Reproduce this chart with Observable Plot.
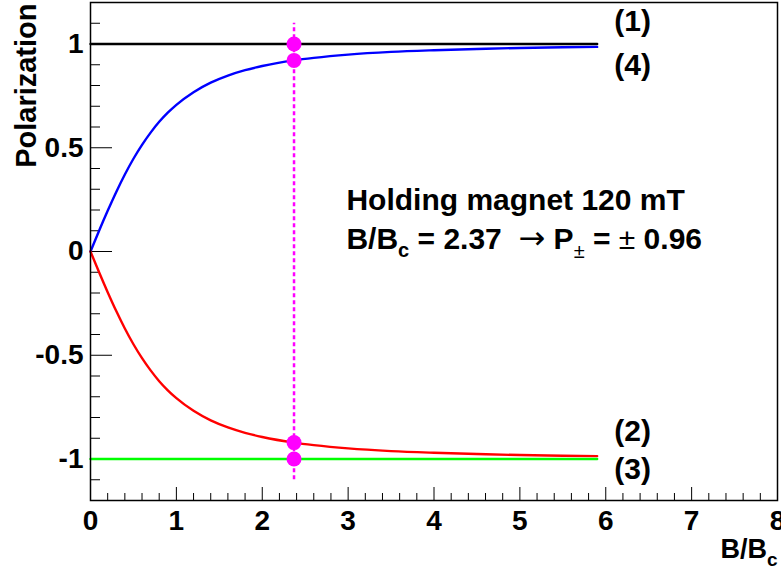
<!DOCTYPE html>
<html><head><meta charset="utf-8">
<script src="https://cdn.jsdelivr.net/npm/d3@7"></script>
<script src="https://cdn.jsdelivr.net/npm/@observablehq/plot@0.6"></script>
<style>body{margin:0;background:#fff;}</style>
</head><body><div id="chart"></div>
<script>
// ---- data ----
const curveX = [0, 0.1, 0.2, 0.3, 0.4, 0.5, 0.6, 0.7, 0.8, 0.9, 1.0, 1.2, 1.4, 1.6, 1.8, 2.0, 2.37, 2.6, 3.0, 3.5, 4.0, 4.5, 5.0, 5.5, 5.9];
const blueY  = [0, 0.100, 0.196, 0.287, 0.371, 0.447, 0.514, 0.573, 0.625, 0.669, 0.707, 0.768, 0.814, 0.848, 0.874, 0.894, 0.921, 0.933, 0.949, 0.962, 0.970, 0.976, 0.981, 0.984, 0.986];
const redY   = [0, -0.100, -0.196, -0.287, -0.371, -0.447, -0.514, -0.573, -0.625, -0.669, -0.707, -0.768, -0.814, -0.848, -0.874, -0.894, -0.921, -0.933, -0.949, -0.962, -0.970, -0.976, -0.981, -0.984, -0.986];
const flatX  = [0, 5.9];
const blackY = [1, 1];
const greenY = [-1, -1];
const markerX = [2.37, 2.37, 2.37, 2.37];
const markerY = [1, 0.921, -0.921, -1];
const cutX = [2.37];
const cutY1 = [-1.1];
const cutY2 = [1.1];
const labelNames = ["(1)", "(4)", "(2)", "(3)"];
const labelX = [6.1, 6.1, 6.1, 6.1];
const labelY = [1.062, 0.85, -0.912, -1.096];
const noteLines = ["Holding magnet 120 mT", "B/Bc = 2.37  \u2192 P\u00b1 = \u00b1 0.96"];
const noteX = [2.98, 2.98];
const noteY = [0.202, 0.012];
const xMajor = [0, 1, 2, 3, 4, 5, 6, 7, 8];
const xTickLabels = ["0", "1", "2", "3", "4", "5", "6", "7", "8"];
const xMinor = [0.2,0.4,0.6,0.8,1.2,1.4,1.6,1.8,2.2,2.4,2.6,2.8,3.2,3.4,3.6,3.8,4.2,4.4,4.6,4.8,5.2,5.4,5.6,5.8,6.2,6.4,6.6,6.8,7.2,7.4,7.6,7.8];
const yMajor = [-1, -0.5, 0, 0.5, 1];
const yTickLabels = ["-1", "-0.5", "0", "0.5", "1"];
const yMinor = [-1.1,-0.9,-0.8,-0.7,-0.6,-0.4,-0.3,-0.2,-0.1,0.1,0.2,0.3,0.4,0.6,0.7,0.8,0.9,1.1];
const xTitle = "B/Bc";
const yTitle = "Polarization";

// ---- tables ----
const blueData = curveX.map((x, i) => ({x, y: blueY[i]}));
const redData = curveX.map((x, i) => ({x, y: redY[i]}));
const blackData = flatX.map((x, i) => ({x, y: blackY[i]}));
const greenData = flatX.map((x, i) => ({x, y: greenY[i]}));
const markers = markerX.map((x, i) => ({x, y: markerY[i]}));
const cut = cutX.map((x, i) => ({x, y1: cutY1[i], y2: cutY2[i]}));
const labels = labelNames.map((t, i) => ({t, x: labelX[i], y: labelY[i]}));
const notes = noteLines.map((t, i) => ({t, x: noteX[i], y: noteY[i]}));

const W = 781, H = 569, mL = 90, mR = 4, mT = 2, mB = 69;
const pw = W - mL - mR, ph = H - mT - mB;

const plot = Plot.plot({
  width: W, height: H,
  marginLeft: mL, marginRight: mR, marginTop: mT, marginBottom: mB,
  style: {fontFamily: "'Liberation Sans', Arial, Helvetica, sans-serif", fontSize: "28px", fontWeight: "bold", background: "white", overflow: "visible", color: "black"},
  x: {domain: [0, 8]},
  y: {domain: [-1.2, 1.2]},
  marks: [
    Plot.axisX({ticks: xMajor, tickSize: 0, tickPadding: 10, label: null, tickFormat: d => xTickLabels[xMajor.indexOf(d)], fontSize: 28}),
    Plot.axisY({ticks: yMajor, tickSize: 0, tickPadding: 7, label: null, tickFormat: d => yTickLabels[yMajor.indexOf(d)], fontSize: 28}),
    Plot.tickX(xMajor, {insetTop: ph - 13, stroke: "black", strokeWidth: 1}),
    Plot.tickX(xMinor, {insetTop: ph - 7, stroke: "black", strokeWidth: 1}),
    Plot.tickY(yMajor, {insetRight: pw - 22, stroke: "black", strokeWidth: 1}),
    Plot.tickY(yMinor, {insetRight: pw - 10, stroke: "black", strokeWidth: 1}),
    Plot.line(blackData, {x: "x", y: "y", stroke: "black", strokeWidth: 2.4}),
    Plot.line(blueData, {x: "x", y: "y", stroke: "#0000ff", strokeWidth: 2.4, curve: "monotone-x"}),
    Plot.line(redData, {x: "x", y: "y", stroke: "#ff0000", strokeWidth: 2.4, curve: "monotone-x"}),
    Plot.line(greenData, {x: "x", y: "y", stroke: "#00ff00", strokeWidth: 2.4}),
    Plot.ruleX(cut, {x: "x", y1: "y1", y2: "y2", stroke: "#ff00ff", strokeWidth: 2.5, strokeDasharray: "4,3"}),
    Plot.dot(markers, {x: "x", y: "y", r: 7.5, fill: "#ff00ff", stroke: "none"}),
    Plot.text(labels, {x: "x", y: "y", text: "t", textAnchor: "start", lineAnchor: "bottom", fontSize: 30, fontWeight: "bold", fill: "black"}),
    Plot.text(notes, {x: "x", y: "y", text: "t", textAnchor: "start", lineAnchor: "bottom", fontSize: 30, fontWeight: "bold", fill: "black"}),
    Plot.text([yTitle], {frameAnchor: "top-left", dx: -55, dy: 1, rotate: -90, textAnchor: "end", lineAnchor: "bottom", fontSize: 29, fontWeight: "bold", fill: "black"}),
    Plot.text([xTitle], {frameAnchor: "bottom-right", dy: 57, textAnchor: "end", lineAnchor: "bottom", fontSize: 27, fontWeight: "bold", fill: "black"}),
    Plot.frame({stroke: "black", strokeWidth: 1.5})
  ]
});
document.getElementById("chart").appendChild(plot);

// ---- rich text (subscripts) ----
const NS = "http://www.w3.org/2000/svg";
function rich(t, parts) {
  while (t.firstChild) t.removeChild(t.firstChild);
  t.style.whiteSpace = "pre";
  let shift = 0;
  for (const p of parts) {
    const ts = document.createElementNS(NS, "tspan");
    ts.textContent = p.s;
    const target = p.sub || 0;
    if (target !== shift) { ts.setAttribute("dy", target - shift); shift = target; }
    if (p.size) ts.setAttribute("font-size", p.size);
    if (p.w) ts.setAttribute("font-weight", p.w);
    if (p.f) ts.setAttribute("font-family", p.f);
    t.appendChild(ts);
  }
}
plot.querySelectorAll("text").forEach(t => {
  const s = t.textContent;
  if (s === xTitle) {
    rich(t, [{s: "B/B"}, {s: "c", sub: 8, size: 19}]);
  } else if (s === noteLines[1]) {
    rich(t, [
      {s: "B/B"}, {s: "c", sub: 8, size: 20}, {s: " = 2.37  "},
      {s: "\u2192", w: "normal", f: "'DejaVu Sans', sans-serif", size: 32}, {s: " P"},
      {s: "\u00b1", sub: 9, size: 20, w: "normal"},
      {s: " = "}, {s: "\u00b1", w: "normal"}, {s: " 0.96"}
    ]);
  }
});
</script>
</body></html>
